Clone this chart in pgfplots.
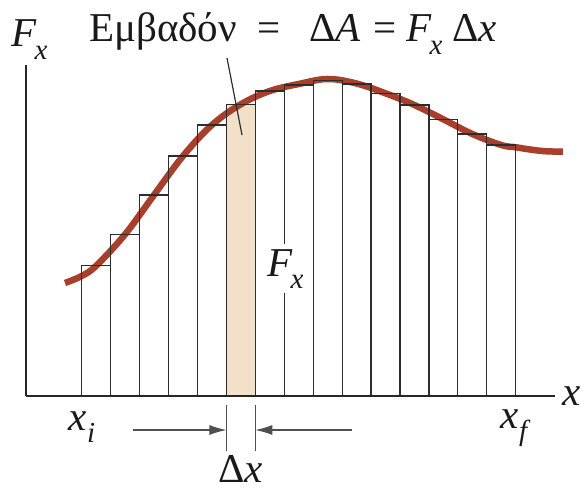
\documentclass[border=0pt]{standalone}
\usepackage{pgfplots}
\pgfplotsset{compat=1.18}
\usepackage{fontspec}
\setmainfont{Liberation Serif}
\usetikzlibrary{arrows.meta}
\definecolor{curvecol}{RGB}{168,62,44}
\definecolor{beige}{RGB}{242,224,200}
\definecolor{barline}{RGB}{45,45,45}
\definecolor{txt}{RGB}{25,25,25}
\definecolor{arrcol}{RGB}{80,80,80}
\newcommand{\sub}[1]{\raisebox{-0.30em}{\fontsize{29}{29}\selectfont\itshape #1}}
\newcommand{\Fx}{\textit{F}\kern-2pt\sub{x}}
\begin{document}
\begin{tikzpicture}
\fontsize{41}{46}\selectfont
\begin{axis}[
  scale only axis, width=529pt, height=331pt,
  xmin=26, xmax=555, ymin=0, ymax=331,
  axis lines=left,
  axis line style={-, line width=2.6pt, color=black!85},
  xtick=\empty, ytick=\empty,
  clip=false, axis on top,
]
% shaded strip
\addplot[ybar interval, fill=beige, draw=none] coordinates {(226.4,291.7) (255.3,291.7)};
% smooth curve F_x(x)
\addplot[smooth, tension=0.6, line width=6.5pt, color=curvecol] coordinates {
(65,113) (81.7,120) (96.2,130.3) (125.1,161.7) (154,201) (183,240)
(211.9,271) (240.8,291.7) (269.8,305) (298.7,312) (327.6,317)
(356.5,312.5) (385.5,302.7) (414.4,291) (443.3,276.7) (472.3,262)
(501.2,251) (516,248.7) (530,246.5) (545,244.8) (563,244.3)};
% bar outlines
\addplot[ybar interval, draw=barline, line width=1.2pt, fill=none] coordinates {
(81.7,130.3) (110.6,161.7) (139.6,201) (168.5,240) (197.4,271)
(226.4,291.7) (255.3,305) (284.2,311) (313.1,315.3) (342.1,312)
(371.0,302.7) (399.9,291) (428.9,276.7) (457.8,262) (486.7,251)
(515.7,251)};
% labels
\node[anchor=base west, inner sep=0, text=txt] at (axis cs:11,349) {\Fx};
\node[anchor=base west, inner sep=0, text=txt] at (axis cs:89,354) {Εμβαδόν};
\node[anchor=base west, inner sep=0, text=txt] at (axis cs:257,354) {=};
\node[anchor=base west, inner sep=0, text=txt] at (axis cs:309,354) {Δ\textit{A}};
\node[anchor=base west, inner sep=0, text=txt] at (axis cs:373,354) {=};
\node[anchor=base west, inner sep=0, text=txt] at (axis cs:406,354) {\Fx};
\node[anchor=base west, inner sep=0, text=txt] at (axis cs:452,354) {Δ\textit{x}};
\draw[line width=1.2pt, color=barline] (axis cs:227,338) -- (axis cs:242,261);
\node[anchor=base west, inner ysep=5pt, inner xsep=1pt, fill=white, text=txt] at (axis cs:266,120) {\Fx};
\node[anchor=base, inner sep=0, text=txt] at (axis cs:82,-34) {\textit{x}\sub{i}};
\node[anchor=base, inner sep=0, text=txt] at (axis cs:514,-32) {\textit{x}\sub{f}};
\node[anchor=west, inner sep=0, text=txt] at (axis cs:562,0) {\textit{x}};
\node[anchor=base, inner sep=0, text=txt] at (axis cs:240.8,-86) {Δ\textit{x}};
\draw[line width=1.1pt, color=arrcol] (axis cs:226.4,-9) -- (axis cs:226.4,-55);
\draw[line width=1.1pt, color=arrcol] (axis cs:255.3,-9) -- (axis cs:255.3,-55);
\draw[-{Latex[length=17pt,width=10pt]}, line width=1.1pt, color=arrcol] (axis cs:132.7,-34) -- (axis cs:226.4,-34);
\draw[-{Latex[length=17pt,width=10pt]}, line width=1.1pt, color=arrcol] (axis cs:351.7,-34) -- (axis cs:255.3,-34);
% page frame = reference canvas
\path (axis cs:0,396) rectangle (axis cs:585,-96);
\end{axis}
\end{tikzpicture}
\end{document}
